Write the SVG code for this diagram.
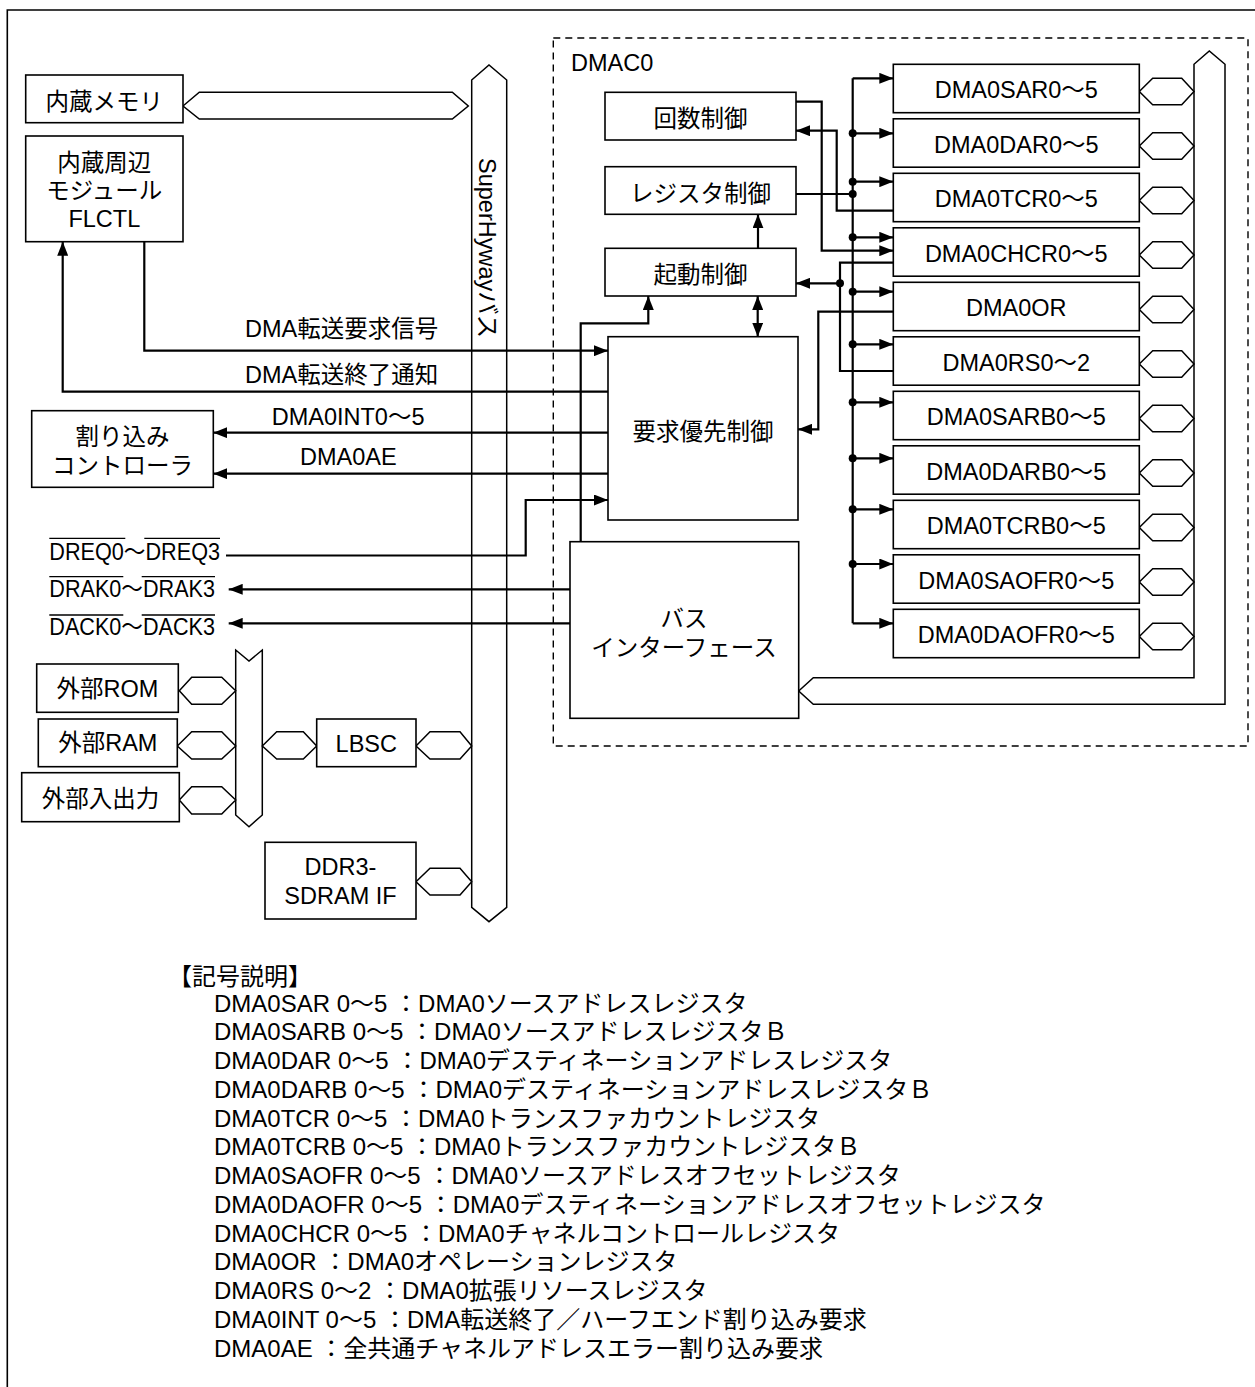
<svg xmlns="http://www.w3.org/2000/svg" width="1255" height="1387" viewBox="0 0 1255 1387">
<style>
text{font-family:"Liberation Sans","Noto Sans CJK JP",sans-serif;font-size:23.5px;fill:#000}
.c{text-anchor:middle}
.lg{font-size:24px}
.box{fill:#fff;stroke:#000;stroke-width:1.6}
.bus{fill:#fff;stroke:#000;stroke-width:1.5;stroke-linejoin:miter}
.ln{fill:none;stroke:#000;stroke-width:2.2}
.ar{fill:none;stroke:#000;stroke-width:2.2;marker-end:url(#ah)}
.ov{stroke:#000;stroke-width:1.3}
.dot{fill:#000}
</style>
<defs>
<marker id="ah" viewBox="0 0 14 11" refX="14" refY="5.5" markerWidth="14" markerHeight="11" markerUnits="userSpaceOnUse" orient="auto-start-reverse"><path d="M0,0 L14,5.5 L0,11 z" fill="#000"/></marker>
</defs>
<rect width="1255" height="1387" fill="#fff"/>
<g id="frame"><path d="M7.3,1387 V10 H1255" fill="none" stroke="#000" stroke-width="1.6"/></g>
<g id="dmac0"><rect x="553.3" y="38" width="694.7" height="708" fill="none" stroke="#000" stroke-width="1.4" stroke-dasharray="7,5"/><text x="571" y="71">DMAC0</text></g>

<g id="buses">
<polygon class="bus" points="183,106 199.3,92.3 452.3,92.3 468.3,106 452.3,119 199.3,119"/>
<polygon class="bus" points="471.7,80 489,65 506.7,80 506.7,907.3 489,921.7 471.7,907.3"/>
<polygon class="bus" points="235.7,650 249,661 262.3,650 262.3,815 249,826.7 235.7,815"/>
<polygon class="bus" points="179.3,690.7 191.7,677.3 221.7,677.3 235.7,690.7 221.7,704.3 191.7,704.3"/>
<polygon class="bus" points="177.3,746 191.7,731.7 221.7,731.7 235.7,746 221.7,759 191.7,759"/>
<polygon class="bus" points="179.3,800 191.7,786.7 221.7,786.7 235.7,800 221.7,814 191.7,814"/>
<polygon class="bus" points="262.3,746 276.7,731.7 303.3,731.7 316.7,746 303.3,759 276.7,759"/>
<polygon class="bus" points="416,746 430,731.7 460,731.7 471.7,746 460,759 430,759"/>
<polygon class="bus" points="416,881.7 430,868.3 460,868.3 471.7,881.7 460,895 430,895"/>
<polygon class="bus" points="798.7,691 813.3,677.7 1194,677.7 1194,64.3 1209.3,51 1225,64.3 1225,704.3 813.3,704.3"/>
<polygon class="bus" points="1139.3,91.5 1152.7,78.2 1181.7,78.2 1194,91.5 1181.7,104.8 1152.7,104.8"/>
<polygon class="bus" points="1139.3,146 1152.7,132.7 1181.7,132.7 1194,146 1181.7,159.3 1152.7,159.3"/>
<polygon class="bus" points="1139.3,200.5 1152.7,187.2 1181.7,187.2 1194,200.5 1181.7,213.8 1152.7,213.8"/>
<polygon class="bus" points="1139.3,255 1152.7,241.7 1181.7,241.7 1194,255 1181.7,268.3 1152.7,268.3"/>
<polygon class="bus" points="1139.3,309.5 1152.7,296.2 1181.7,296.2 1194,309.5 1181.7,322.8 1152.7,322.8"/>
<polygon class="bus" points="1139.3,364 1152.7,350.7 1181.7,350.7 1194,364 1181.7,377.3 1152.7,377.3"/>
<polygon class="bus" points="1139.3,418.5 1152.7,405.2 1181.7,405.2 1194,418.5 1181.7,431.8 1152.7,431.8"/>
<polygon class="bus" points="1139.3,473 1152.7,459.7 1181.7,459.7 1194,473 1181.7,486.3 1152.7,486.3"/>
<polygon class="bus" points="1139.3,527.5 1152.7,514.2 1181.7,514.2 1194,527.5 1181.7,540.8 1152.7,540.8"/>
<polygon class="bus" points="1139.3,582 1152.7,568.7 1181.7,568.7 1194,582 1181.7,595.3 1152.7,595.3"/>
<polygon class="bus" points="1139.3,636.5 1152.7,623.2 1181.7,623.2 1194,636.5 1181.7,649.8 1152.7,649.8"/>
<text transform="translate(479,158) rotate(90)">SuperHywayバス</text>
</g>

<g id="connectors">
<path class="ar" d="M144.3,241.7 V350.7 H608"/>
<path class="ar" d="M608,391.7 H62.7 V241.7"/>
<path class="ar" d="M608,432.7 H213.3"/>
<path class="ar" d="M608,473.7 H213.3"/>
<path class="ar" d="M226,555.5 H525.7 V500 H608"/>
<path class="ar" d="M570,589.3 H228.7"/>
<path class="ar" d="M570,623.3 H228.7"/>
<path class="ar" d="M580.7,541.7 V323.3 H648.3 V296"/>
<path class="ar" d="M757.7,336.7 V296" style="marker-start:url(#ah)"/>
<path class="ar" d="M758,248.3 V214.3"/>
<path class="ln" d="M796,194 H852.7"/>
<path class="ln" d="M852.7,78.3 V623.3"/>
<path class="ar" d="M852.7,78.3 H893.3"/>
<path class="ar" d="M852.7,133.3 H893.3"/>
<path class="ar" d="M852.7,181.7 H893.3"/>
<path class="ar" d="M852.7,237.3 H893.3"/>
<path class="ar" d="M852.7,291.7 H893.3"/>
<path class="ar" d="M852.7,344.3 H893.3"/>
<path class="ar" d="M852.7,402.3 H893.3"/>
<path class="ar" d="M852.7,458.3 H893.3"/>
<path class="ar" d="M852.7,509.3 H893.3"/>
<path class="ar" d="M852.7,564 H893.3"/>
<path class="ar" d="M852.7,623.3 H893.3"/>
<path class="ar" d="M796,101.7 H821.7 V250.7 H893.3"/>
<path class="ar" d="M893.3,210.7 H836.7 V130.7 H796"/>
<path class="ln" d="M893.3,262.7 H840 V371 H893.3"/>
<path class="ar" d="M840,283.3 H796"/>
<path class="ar" d="M893.3,311.7 H818.3 V429.3 H798"/>
<circle class="dot" cx="852.7" cy="133.3" r="4"/>
<circle class="dot" cx="852.7" cy="181.7" r="4"/>
<circle class="dot" cx="852.7" cy="194" r="4"/>
<circle class="dot" cx="852.7" cy="237.3" r="4"/>
<circle class="dot" cx="852.7" cy="291.7" r="4"/>
<circle class="dot" cx="852.7" cy="344.3" r="4"/>
<circle class="dot" cx="852.7" cy="402.3" r="4"/>
<circle class="dot" cx="852.7" cy="458.3" r="4"/>
<circle class="dot" cx="852.7" cy="509.3" r="4"/>
<circle class="dot" cx="852.7" cy="564" r="4"/>
<circle class="dot" cx="840" cy="283.3" r="4"/>
<text x="245" y="337.3">DMA転送要求信号</text>
<text x="245" y="383.3">DMA転送終了通知</text>
<text x="271.7" y="425">DMA0INT0～5</text>
<text x="300" y="465">DMA0AE</text>
<text x="49.3" y="560" textLength="170.7" lengthAdjust="spacingAndGlyphs">DREQ0～DREQ3</text>
<text x="49.3" y="597.3" textLength="165.7" lengthAdjust="spacingAndGlyphs">DRAK0～DRAK3</text>
<text x="49.3" y="635.3" textLength="165.7" lengthAdjust="spacingAndGlyphs">DACK0～DACK3</text>
<path class="ov" d="M49.3,538.3 H125.3 M144.3,538.3 H220 M49.3,576.7 H123.3 M141.7,576.7 H215 M49.3,615 H123.3 M141.7,615 H215"/>
</g>

<g id="naizou-memory"><rect class="box" x="25.7" y="75" width="157.3" height="47.7"/><text class="c" x="104.3" y="110">内蔵メモリ</text></g>
<g id="flctl"><rect class="box" x="25.7" y="136" width="157.3" height="105.7"/><text class="c" x="104.3" y="171">内蔵周辺</text><text class="c" x="104.3" y="199">モジュール</text><text class="c" x="104.3" y="226.7">FLCTL</text></g>
<g id="intc"><rect class="box" x="31.7" y="410.7" width="181.6" height="76.6"/><text class="c" x="122.5" y="444.5">割り込み</text><text class="c" x="122.5" y="473.5">コントローラ</text></g>
<g id="ext-rom"><rect class="box" x="36.7" y="664" width="141.6" height="48.3"/><text class="c" x="107.5" y="696.5">外部ROM</text></g>
<g id="ext-ram"><rect class="box" x="38.3" y="719" width="139" height="47.7"/><text class="c" x="107.8" y="751">外部RAM</text></g>
<g id="ext-io"><rect class="box" x="21.7" y="772.7" width="157.6" height="49"/><text class="c" x="100.5" y="807">外部入出力</text></g>
<g id="lbsc"><rect class="box" x="316.7" y="719" width="99.3" height="47.7"/><text class="c" x="366.3" y="751.7">LBSC</text></g>
<g id="ddr3"><rect class="box" x="265" y="842.3" width="151" height="76.7"/><text class="c" x="340.5" y="875">DDR3-</text><text class="c" x="340.5" y="904">SDRAM IF</text></g>

<g id="kaisu"><rect class="box" x="605" y="92.3" width="191" height="47.7"/><text class="c" x="700.5" y="127">回数制御</text></g>
<g id="register-ctrl"><rect class="box" x="605" y="166.7" width="191" height="47.6"/><text class="c" x="700.5" y="201.5">レジスタ制御</text></g>
<g id="kidou"><rect class="box" x="605" y="248.3" width="191" height="47.7"/><text class="c" x="700.5" y="283">起動制御</text></g>
<g id="youkyu"><rect class="box" x="608" y="336.7" width="190" height="183.3"/><text class="c" x="703" y="439.5">要求優先制御</text></g>
<g id="bus-if"><rect class="box" x="570" y="541.7" width="228.7" height="176.6"/><text class="c" x="684" y="627">バス</text><text class="c" x="684" y="655.5">インターフェース</text></g>

<g id="reg-sar"><rect class="box" x="893.3" y="64.3" width="246" height="48.4"/><text class="c" x="1016.3" y="98.3">DMA0SAR0～5</text></g>
<g id="reg-dar"><rect class="box" x="893.3" y="118.8" width="246" height="48.4"/><text class="c" x="1016.3" y="152.8">DMA0DAR0～5</text></g>
<g id="reg-tcr"><rect class="box" x="893.3" y="173.3" width="246" height="48.4"/><text class="c" x="1016.3" y="207.3">DMA0TCR0～5</text></g>
<g id="reg-chcr"><rect class="box" x="893.3" y="227.8" width="246" height="48.4"/><text class="c" x="1016.3" y="261.8">DMA0CHCR0～5</text></g>
<g id="reg-or"><rect class="box" x="893.3" y="282.3" width="246" height="48.4"/><text class="c" x="1016.3" y="316.3">DMA0OR</text></g>
<g id="reg-rs"><rect class="box" x="893.3" y="336.8" width="246" height="48.4"/><text class="c" x="1016.3" y="370.8">DMA0RS0～2</text></g>
<g id="reg-sarb"><rect class="box" x="893.3" y="391.3" width="246" height="48.4"/><text class="c" x="1016.3" y="425.3">DMA0SARB0～5</text></g>
<g id="reg-darb"><rect class="box" x="893.3" y="445.8" width="246" height="48.4"/><text class="c" x="1016.3" y="479.8">DMA0DARB0～5</text></g>
<g id="reg-tcrb"><rect class="box" x="893.3" y="500.3" width="246" height="48.4"/><text class="c" x="1016.3" y="534.3">DMA0TCRB0～5</text></g>
<g id="reg-saofr"><rect class="box" x="893.3" y="554.8" width="246" height="48.4"/><text class="c" x="1016.3" y="588.8">DMA0SAOFR0～5</text></g>
<g id="reg-daofr"><rect class="box" x="893.3" y="609.3" width="246" height="48.4"/><text class="c" x="1016.3" y="643.3">DMA0DAOFR0～5</text></g>

<g id="legend">
<text class="lg" x="168" y="985">【記号説明】</text>
<text class="lg" x="214" y="1011.7">DMA0SAR 0～5 ：DMA0ソースアドレスレジスタ</text>
<text class="lg" x="214" y="1040.4">DMA0SARB 0～5 ：DMA0ソースアドレスレジスタＢ</text>
<text class="lg" x="214" y="1069.2">DMA0DAR 0～5 ：DMA0デスティネーションアドレスレジスタ</text>
<text class="lg" x="214" y="1097.9">DMA0DARB 0～5 ：DMA0デスティネーションアドレスレジスタＢ</text>
<text class="lg" x="214" y="1126.7">DMA0TCR 0～5 ：DMA0トランスファカウントレジスタ</text>
<text class="lg" x="214" y="1155.4">DMA0TCRB 0～5 ：DMA0トランスファカウントレジスタＢ</text>
<text class="lg" x="214" y="1184.2">DMA0SAOFR 0～5 ：DMA0ソースアドレスオフセットレジスタ</text>
<text class="lg" x="214" y="1212.9">DMA0DAOFR 0～5 ：DMA0デスティネーションアドレスオフセットレジスタ</text>
<text class="lg" x="214" y="1241.7">DMA0CHCR 0～5 ：DMA0チャネルコントロールレジスタ</text>
<text class="lg" x="214" y="1270.4">DMA0OR ：DMA0オペレーションレジスタ</text>
<text class="lg" x="214" y="1299.2">DMA0RS 0～2 ：DMA0拡張リソースレジスタ</text>
<text class="lg" x="214" y="1327.9">DMA0INT 0～5 ：DMA転送終了／ハーフエンド割り込み要求</text>
<text class="lg" x="214" y="1356.7">DMA0AE ：全共通チャネルアドレスエラー割り込み要求</text>
</g>
</svg>
